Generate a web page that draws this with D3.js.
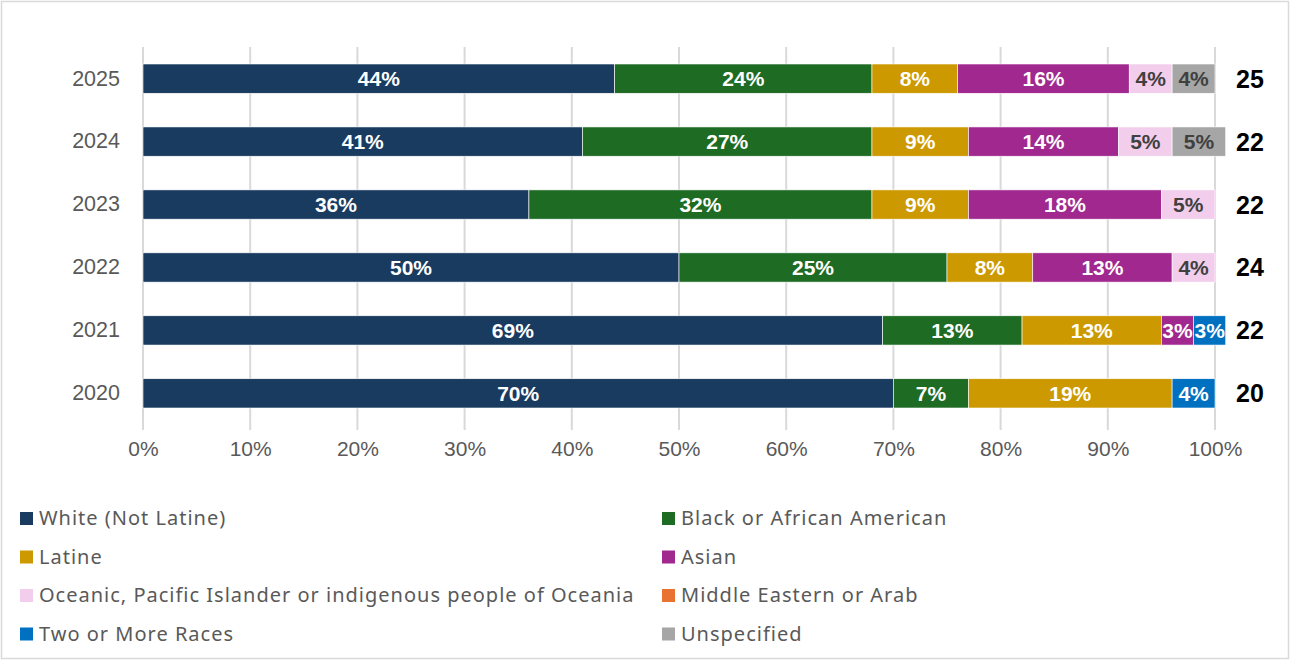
<!DOCTYPE html>
<html>
<head>
<meta charset="utf-8">
<script src="https://cdn.jsdelivr.net/npm/d3@7"></script>
<style>
  html, body { margin: 0; padding: 0; background: #fff; }
  svg { display: block; }
</style>
</head>
<body>
<svg id="chart" width="1290" height="660"></svg>
<script>
// Years, top to bottom
const years = ["2025", "2024", "2023", "2022", "2021", "2020"];
// Headcount shown to the right of each bar
const totals = [25, 22, 22, 24, 22, 20];

const groups = [
  "White (Not Latine)",
  "Black or African American",
  "Latine",
  "Asian",
  "Oceanic, Pacific Islander or indigenous people of Oceania",
  "Middle Eastern or Arab",
  "Two or More Races",
  "Unspecified"
];
const colors = ["#193B5F", "#1E6B24", "#CC9900", "#A0288F", "#F2CEEC", "#E97132", "#0070C0", "#A6A6A6"];

// Share (%) per group, one value per year in the order of `years`
const white       = [44, 41, 36, 50, 69, 70];
const black       = [24, 27, 32, 25, 13, 7];
const latine      = [8, 9, 9, 8, 13, 19];
const asian       = [16, 14, 18, 13, 3, 0];
const oceanic     = [4, 5, 5, 4, 0, 0];
const middleEast  = [0, 0, 0, 0, 0, 0];
const multiracial = [0, 0, 0, 0, 3, 4];
const unspecified = [4, 5, 0, 0, 0, 0];

const xTicks = [0, 10, 20, 30, 40, 50, 60, 70, 80, 90, 100];

const seriesValues = [white, black, latine, asian, oceanic, middleEast, multiracial, unspecified];
const labelDark = [false, false, false, false, true, false, false, true];

const FONT = "Liberation Sans, Arial, sans-serif";
const svg = d3.select("#chart");

// outer frame
svg.append("rect")
  .attr("x", 1.5).attr("y", 1.5).attr("width", 1287).attr("height", 657)
  .attr("fill", "#fff").attr("stroke", "#D9D9D9").attr("stroke-width", 1.5);

const x = d3.scaleLinear().domain([0, 100]).range([143, 1215]);
const y = d3.scaleBand().domain(years).range([47, 425]).paddingInner(0.535).paddingOuter(0.27);

// gridlines
svg.append("g").selectAll("line").data(xTicks).join("line")
  .attr("x1", d => x(d)).attr("x2", d => x(d))
  .attr("y1", 47).attr("y2", 430)
  .attr("stroke", "#D9D9D9").attr("stroke-width", 2);

// x axis
const xAxis = svg.append("g").attr("transform", "translate(0,430)")
  .call(d3.axisBottom(x).tickValues(xTicks).tickFormat(d => d + "%").tickSize(0).tickPadding(11));
xAxis.select(".domain").remove();
xAxis.selectAll("text")
  .attr("font-family", FONT)
  .attr("font-size", 21).attr("fill", "#595959");

// y axis
const yAxis = svg.append("g").attr("transform", "translate(143,0)")
  .call(d3.axisLeft(y).tickSize(0).tickPadding(23));
yAxis.select(".domain").remove();
yAxis.selectAll("text")
  .attr("font-family", FONT)
  .attr("font-size", 21.5).attr("fill", "#595959");

// stacked segments
const segments = [];
years.forEach((yr, i) => {
  let acc = 0;
  seriesValues.forEach((vals, s) => {
    const v = vals[i];
    if (v > 0) segments.push({ year: yr, s, x0: acc, x1: acc + v, v });
    acc += v;
  });
});

const segG = svg.append("g");
segG.selectAll("rect").data(segments).join("rect")
  .attr("x", d => x(d.x0))
  .attr("y", d => y(d.year))
  .attr("width", d => x(d.x1) - x(d.x0))
  .attr("height", y.bandwidth())
  .attr("fill", d => colors[d.s])
  .attr("stroke", "#fff").attr("stroke-width", 0.6);

segG.selectAll("text").data(segments).join("text")
  .attr("x", d => (x(d.x0) + x(d.x1)) / 2)
  .attr("y", d => y(d.year) + y.bandwidth() / 2)
  .attr("dy", "0.36em")
  .attr("text-anchor", "middle")
  .attr("font-family", FONT)
  .attr("font-weight", "bold")
  .attr("font-size", 21)
  .attr("fill", d => labelDark[d.s] ? "#404040" : "#fff")
  .text(d => d.v + "%");

// totals
svg.append("g").selectAll("text").data(years).join("text")
  .attr("x", 1250)
  .attr("y", d => y(d) + y.bandwidth() / 2)
  .attr("dy", "0.36em")
  .attr("text-anchor", "middle")
  .attr("font-family", FONT)
  .attr("font-weight", "bold")
  .attr("font-size", 25)
  .attr("fill", "#000")
  .text((d, i) => totals[i]);

// legend (two columns)
const legend = svg.append("g");
const items = legend.selectAll("g").data(groups).join("g")
  .attr("transform", (d, i) => `translate(${i % 2 === 0 ? 20 : 662},${518 + Math.floor(i / 2) * 38.5})`);
items.append("rect")
  .attr("x", 0).attr("y", -6).attr("width", 13).attr("height", 13)
  .attr("fill", (d, i) => colors[i]);
items.append("text")
  .attr("x", 19).attr("y", 0).attr("dy", "0.35em")
  .attr("font-family", "Noto Sans, Liberation Sans, sans-serif")
  .attr("font-size", 20)
  .attr("letter-spacing", 1.0)
  .attr("fill", "#595959")
  .text(d => d);
</script>
</body>
</html>
